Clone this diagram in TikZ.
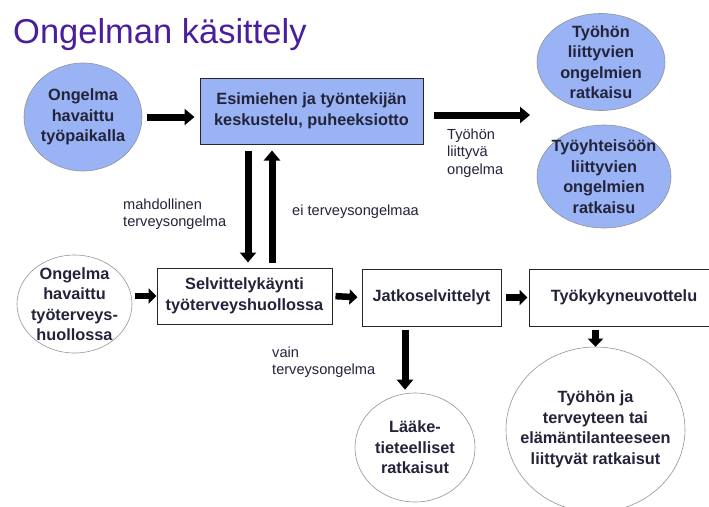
\documentclass[tikz,border=0pt]{standalone}
\usepackage{fontspec}
\setmainfont{Liberation Sans}
\usetikzlibrary{shapes.geometric,arrows.meta}
\definecolor{otsikko}{HTML}{4A1E9C}
\definecolor{sininen}{HTML}{99B3F5}
\definecolor{teksti}{HTML}{23233A}

\begin{document}
\begin{tikzpicture}[x=1pt,y=-1pt,
  every node/.style={font=\bfseries\fontsize{16.3}{20.5}\selectfont,align=center,text=teksti},
  pallo/.style={ellipse,draw=gray!85,line width=0.6pt,inner sep=-30pt},
  sinipallo/.style={pallo,fill=sininen},
  laatikko/.style={rectangle,draw=black!85,line width=1pt,inner sep=0pt},
  nuoli/.style={line width=7pt,-{Triangle[width=16pt,length=10pt]}},
  pikkunuoli/.style={line width=6.5pt,-{Triangle[width=15pt,length=8pt]}},
  selite/.style={font=\fontsize{14.6}{17.5}\selectfont,align=left,anchor=west,inner sep=0pt}]
\clip (0,0) rectangle (709,506);
\node[font=\fontsize{34.5}{38}\selectfont,text=otsikko,anchor=base west,inner sep=0pt] (otsikko) at (13,43) {Ongelman käsittely};
\node[sinipallo,minimum width=118pt,minimum height=108pt] (tyopaikka) at (83,117) {Ongelma\\havaittu\\työpaikalla};
\node[laatikko,fill=sininen,minimum width=223pt,minimum height=66pt] (keskustelu) at (311.5,111) {Esimiehen ja työntekijän\\keskustelu, puheeksiotto};
\node[sinipallo,minimum width=128pt,minimum height=97pt] (tyo) at (601,62) {Työhön\\liittyvien\\ongelmien\\ratkaisu};
\node[sinipallo,minimum width=134pt,minimum height=103pt] (yhteiso) at (604,176.5) {Työyhteisöön\\liittyvien\\ongelmien\\ratkaisu};
\coordinate (kohde) at (530,115);
\node[pallo,minimum width=115pt,minimum height=98pt] (tth) at (74.5,304) {Ongelma\\havaittu\\työterveys-\\huollossa};
\node[laatikko,minimum width=175pt,minimum height=56pt] (selvittely) at (244.5,296) {Selvittelykäynti\\työterveyshuollossa};
\node[laatikko,minimum width=139pt,minimum height=57pt] (jatko) at (431.5,297.5) {Jatkoselvittelyt};
\node[laatikko,minimum width=190pt,minimum height=57pt] (neuvottelu) at (624,297.5) {Työkykyneuvottelu};
\node[pallo,minimum width=120pt,minimum height=109pt] (laake) at (415,447.5) {Lääke-\\tieteelliset\\ratkaisut};
\node[pallo,minimum width=179pt,minimum height=165pt] (ratkaisut) at (595.5,429.5) {Työhön ja\\terveyteen tai\\elämäntilanteeseen\\liittyvät ratkaisut};
\node[selite] (tyohonsel) at (447,153) {Työhön\\liittyvä\\ongelma};
\node[selite] (mahdsel) at (123,214) {mahdollinen\\terveysongelma};
\node[selite] (eisel) at (292,212) {ei terveysongelmaa};
\node[selite] (vainsel) at (272,362) {vain\\terveysongelma};
\draw[nuoli,shorten <=5pt,shorten >=5pt] (tyopaikka.east) -- (tyopaikka.east -| keskustelu.west);
\draw[nuoli,shorten <=10pt] (keskustelu.east |- kohde) -- (kohde);
\draw[nuoli,shorten <=6pt,shorten >=5pt] ([xshift=-63.5pt]keskustelu.south) -- ([xshift=-63.5pt]keskustelu.south |- selvittely.north);
\draw[nuoli,shorten <=5pt,shorten >=6pt] ([xshift=-39.5pt]keskustelu.south |- selvittely.north) -- ([xshift=-39.5pt]keskustelu.south);
\draw[pikkunuoli,shorten <=3pt] (selvittely.west -| tth.east) -- (selvittely.west);
\draw[pikkunuoli,shorten <=3pt,shorten >=4pt] (selvittely.east) -- (jatko.west);
\draw[pikkunuoli,shorten <=4pt,shorten >=1pt] (jatko.east) -- (neuvottelu.west);
\draw[nuoli,shorten <=3pt,shorten >=3pt] ([xshift=-26.5pt]jatko.south) -- ([xshift=-26.5pt]jatko.south |- laake.north);
\draw[pikkunuoli,shorten <=3pt] (neuvottelu.south -| ratkaisut.north) -- (ratkaisut.north);
\end{tikzpicture}
\end{document}
